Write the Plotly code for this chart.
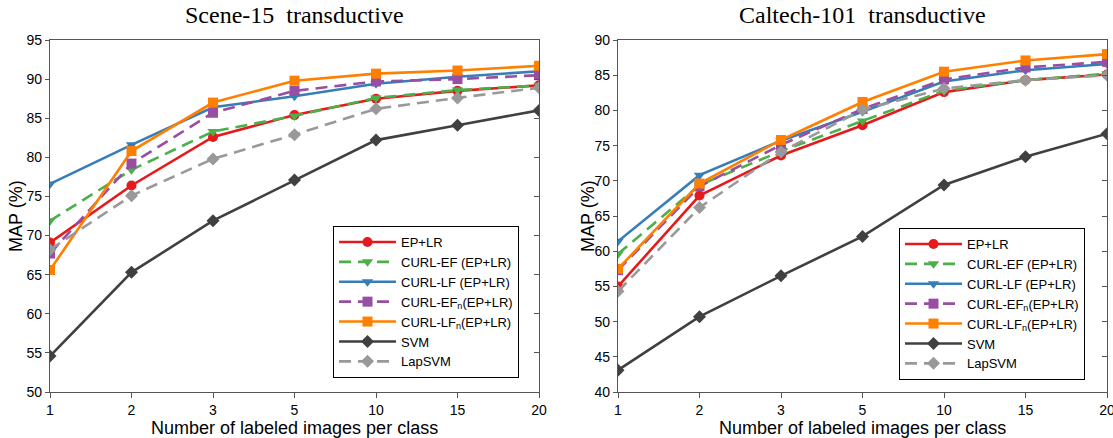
import plotly.graph_objects as go

categories = ["1", "2", "3", "5", "10", "15", "20"]
series_names = ["EP+LR", "CURL-EF (EP+LR)", "CURL-LF (EP+LR)",
                "CURL-EF<sub>n</sub>(EP+LR)", "CURL-LF<sub>n</sub>(EP+LR)", "SVM", "LapSVM"]

# Scene-15 transductive
scene_ep_lr = [69.1, 76.4, 82.6, 85.4, 87.5, 88.5, 89.2]
scene_curl_ef = [71.9, 78.4, 83.3, 85.3, 87.6, 88.6, 89.2]
scene_curl_lf = [76.6, 81.6, 86.4, 87.8, 89.4, 90.3, 91.0]
scene_curl_efn = [67.7, 79.2, 85.7, 88.5, 89.7, 90.0, 90.5]
scene_curl_lfn = [65.6, 80.8, 87.0, 89.8, 90.7, 91.1, 91.7]
scene_svm = [54.6, 65.3, 71.9, 77.1, 82.2, 84.1, 86.0]
scene_lapsvm = [68.2, 75.1, 79.8, 82.9, 86.2, 87.6, 88.9]

# Caltech-101 transductive
cal_ep_lr = [55.0, 67.9, 73.6, 77.9, 82.6, 84.3, 85.1]
cal_curl_ef = [59.6, 69.4, 74.2, 78.5, 82.8, 84.3, 85.2]
cal_curl_lf = [61.4, 70.8, 75.7, 79.8, 84.1, 85.7, 86.6]
cal_curl_efn = [57.3, 69.2, 75.1, 80.2, 84.4, 86.1, 86.9]
cal_curl_lfn = [57.5, 69.6, 75.8, 81.2, 85.5, 87.1, 88.0]
cal_svm = [43.1, 50.7, 56.5, 62.1, 69.4, 73.4, 76.7]
cal_lapsvm = [54.3, 66.2, 74.1, 80.1, 83.1, 84.3, 85.0]

titles = ["Scene-15  transductive", "Caltech-101  transductive"]
x_title = "Number of labeled images per class"
y_title = "MAP (%)"

colors = ["#e41a1c", "#4daf4a", "#377eb8", "#984ea3", "#ff7f00", "#404040", "#999999"]
symbols = ["circle", "triangle-down", "triangle-down", "square", "square", "diamond", "diamond"]
dashes = ["solid", "12px,7px", "solid", "12px,7px", "solid", "solid", "12px,7px"]

scene = [scene_ep_lr, scene_curl_ef, scene_curl_lf, scene_curl_efn, scene_curl_lfn, scene_svm, scene_lapsvm]
cal = [cal_ep_lr, cal_curl_ef, cal_curl_lf, cal_curl_efn, cal_curl_lfn, cal_svm, cal_lapsvm]

fig = go.Figure()
for i, name in enumerate(series_names):
    fig.add_trace(go.Scatter(
        x=categories, y=scene[i], name=name, mode="lines+markers",
        line=dict(color=colors[i], width=2.6, dash=dashes[i]),
        marker=dict(symbol=symbols[i], size=10, color=colors[i]),
        xaxis="x", yaxis="y", legend="legend"))
for i, name in enumerate(series_names):
    fig.add_trace(go.Scatter(
        x=categories, y=cal[i], name=name, mode="lines+markers",
        line=dict(color=colors[i], width=2.6, dash=dashes[i]),
        marker=dict(symbol=symbols[i], size=10, color=colors[i]),
        xaxis="x2", yaxis="y2", legend="legend2"))

W, H = 1113, 438
tickfont = dict(family="Liberation Sans, Arial", size=14, color="#000")
titlefont = dict(family="Liberation Sans, Arial", size=18, color="#000")
axcol = "#555555"

def xax(dom):
    return dict(domain=dom, type="category", categoryorder="array", categoryarray=categories,
                range=[0, 6], showgrid=False, zeroline=False, showline=True, linecolor=axcol,
                linewidth=1.3, mirror=True, ticks="outside", ticklen=5, tickcolor=axcol,
                automargin=False, tickfont=tickfont)

def yax(anchor, rng, dtick):
    return dict(domain=[(H - 392) / H, (H - 40) / H], anchor=anchor, range=rng, dtick=dtick,
                showgrid=False, zeroline=False, showline=True, linecolor=axcol, linewidth=1.3,
                mirror=True, ticks="outside", ticklen=4, tickcolor=axcol, tickfont=tickfont,
                automargin=False)

def yright(anchor, over, rng, dtick):
    return dict(domain=[(H - 392) / H, (H - 40) / H], anchor=anchor, overlaying=over, side="right",
                range=rng, dtick=dtick, showgrid=False, zeroline=False, showline=False,
                ticks="inside", ticklen=5, tickcolor=axcol, showticklabels=False, automargin=False)

legfont = dict(family="Liberation Sans, Arial", size=13, color="#000")

def txt(text, xpx, ypx, font, angle=0):
    return dict(text=text, x=xpx / W, y=(H - ypx) / H, xref="paper", yref="paper",
                showarrow=False, xanchor="center", yanchor="middle", textangle=angle, font=font)

serif = dict(family="Liberation Serif, Times New Roman", size=24, color="#000")

fig.update_layout(
    width=W, height=H, margin=dict(l=0, r=0, t=0, b=0, autoexpand=False),
    paper_bgcolor="white", plot_bgcolor="white",
    xaxis=xax([50 / W, 539 / W]) | dict(anchor="y"),
    yaxis=yax("x", [50, 95], 5),
    yaxis3=yright("x", "y", [50, 95], 5),
    xaxis2=xax([618 / W, 1107 / W]) | dict(anchor="y2"),
    yaxis2=yax("x2", [40, 90], 5),
    yaxis4=yright("x2", "y2", [40, 90], 5),
    legend=dict(x=333 / W, y=(H - 226) / H, xanchor="left", yanchor="top",
                bgcolor="white", bordercolor="#000", borderwidth=1, font=legfont,
                itemwidth=57, tracegroupgap=0),
    legend2=dict(x=899 / W, y=(H - 228) / H, xanchor="left", yanchor="top",
                 bgcolor="white", bordercolor="#000", borderwidth=1, font=legfont,
                 itemwidth=57, tracegroupgap=0),
    annotations=[
        txt(titles[0], (50 + 539) / 2, 15, serif),
        txt(titles[1], (618 + 1107) / 2, 15, serif),
        txt(x_title, (50 + 539) / 2, 428, titlefont),
        txt(x_title, (618 + 1107) / 2, 428, titlefont),
        txt(y_title, 16, 216, titlefont, -90),
        txt(y_title, 588, 216, titlefont, -90),
    ],
)
# dummy traces to activate right-side tick axes
fig.add_trace(go.Scatter(x=[None], y=[None], xaxis="x", yaxis="y3", showlegend=False, hoverinfo="skip"))
fig.add_trace(go.Scatter(x=[None], y=[None], xaxis="x2", yaxis="y4", showlegend=False, hoverinfo="skip"))

fig.write_html("out.html", config={"displayModeBar": False},
               post_script="document.body.style.margin='0';document.body.style.overflow='hidden';")
